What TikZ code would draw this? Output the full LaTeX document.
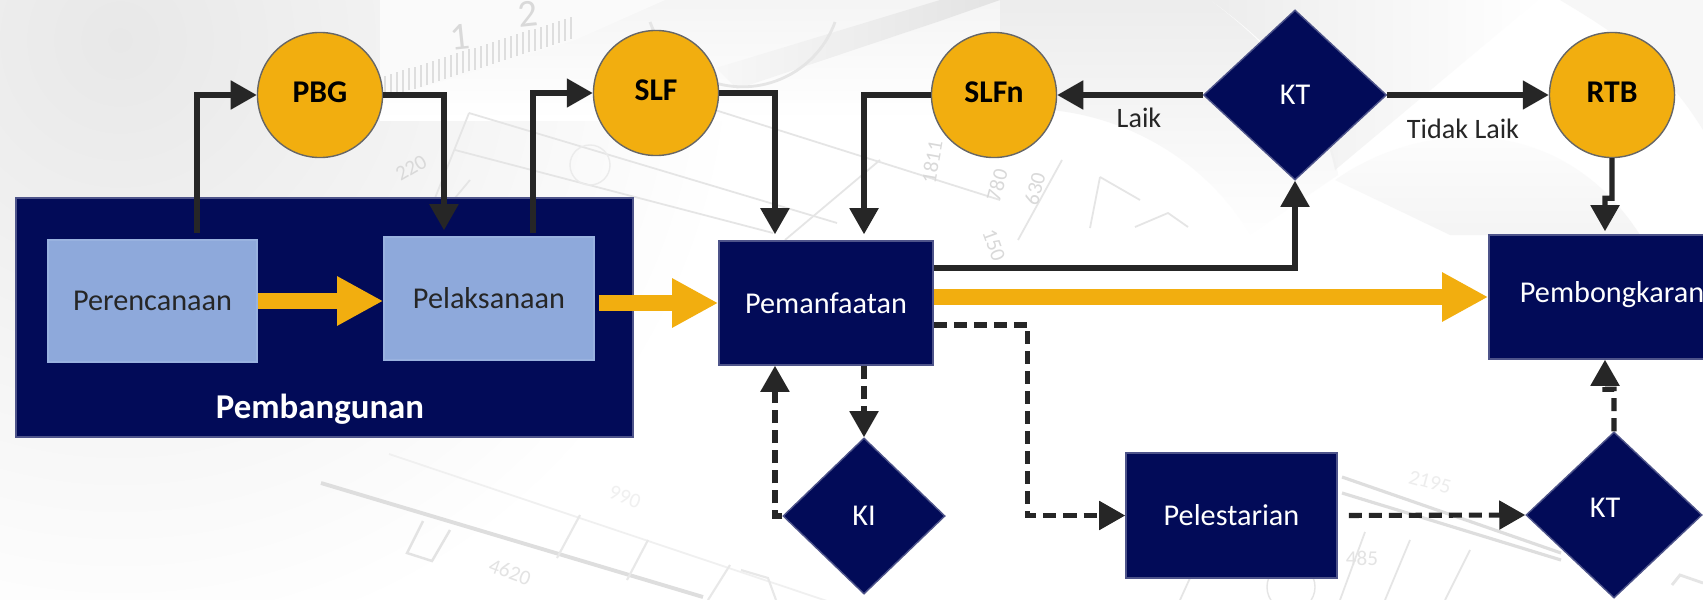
\documentclass[tikz,border=0pt]{standalone}
\usepackage{fontspec}
\setmainfont{Carlito}
\usetikzlibrary{arrows.meta,shapes.geometric,fadings}

\definecolor{navy}{HTML}{020B58}
\definecolor{bluebox}{HTML}{8EA9DB}
\definecolor{amber}{HTML}{F2AE0F}
\definecolor{ink}{HTML}{262626}

\tikzset{
  proses/.style={rectangle, fill=navy, draw=navy!70!white, thin, text=white, inner sep=0pt, font=\fontsize{8.6}{11}\selectfont},
  tahap/.style={rectangle, fill=bluebox, draw=bluebox!90!white, thin, text=ink, inner sep=0pt, font=\fontsize{8.6}{11}\selectfont},
  izin/.style={circle, fill=amber, draw=gray!80!black, thin, text=black, inner sep=0pt, minimum size=1.25cm, text depth=.05cm, font=\bfseries\fontsize{9}{11}\selectfont},
  cek/.style={diamond, fill=navy, draw=navy!70!white, thin, text=white, inner sep=0pt, font=\fontsize{8.6}{11}\selectfont},
  alur/.style={ink, line width=1.45pt, -{Triangle[length=.26cm,width=.28cm]}},
  alurputus/.style={alur, dash pattern=on .13cm off .07cm},
  utama/.style={amber, line width=4.3pt, -{Triangle[length=.46cm,width=.46cm]}},
  latar/.style={gray!20, line width=.5pt},
  angka/.style={gray!30, font=\fontsize{6}{7}\selectfont, inner sep=0pt},
}

\begin{document}
\begin{tikzpicture}[x=.01cm,y=-.01cm]
\useasboundingbox (0,0) rectangle (1703,600);

% background sheet
\fill[white] (0,0) rectangle (1703,600);
\shade[inner color=gray!18,outer color=white] (120,40) circle (6.2cm);
\shade[top color=gray!8,bottom color=white] (380,0) rectangle (1000,120);
\fill[gray!14,path fading=south] (1000,0) -- (1210,0) .. controls (1290,60) and (1330,120) .. (1338,175) -- (1250,235) .. controls (1200,150) and (1100,100) .. (1000,110) -- cycle;
\fill[gray!14,path fading=east] (1210,0) -- (1538,0) -- (1335,170) .. controls (1320,100) and (1280,50) .. cycle;
\fill[gray!8,path fading=north] (1335,180) .. controls (1420,120) and (1560,110) .. (1640,235) -- (1450,235) -- cycle;
\fill[gray!6] (1560,0) -- (1703,0) -- (1703,130) .. controls (1660,60) and (1610,30) .. cycle;

% ruler
\fill[white!96!gray] (380,0) -- (665,0) -- (573,41) -- (380,100) -- cycle;
\foreach \i in {0,...,31} {
  \draw[gray!26, line width=.4pt] ({385+\i*6},{98-\i*1.9}) -- ++(0,-22);
}
\node[angka, rotate=6, font=\fontsize{11}{12}\selectfont] (rul1) at (460,37) {1};
\node[angka, rotate=6, font=\fontsize{11}{12}\selectfont] (rul2) at (528,14) {2};

% pen
\shade[left color=gray!6,right color=gray!22] (716,68) -- (940,0) -- (1000,0) -- (940,21) -- (737,89) -- cycle;
\draw[gray!20, line width=.8pt] (650,22) arc (200:340:28pt);

% plan lines
\draw[latar] (469,113) -- (837,223);
\draw[latar] (455,150) -- (773,233);
\draw[latar] (469,113) -- (435,198);
\draw[latar] (470,180) -- (455,198);
\draw[latar] (715,110) -- (1000,200);
\draw[latar] (880,160) -- (785,240);
\draw[latar] (1062,160) -- (1018,240);
\draw[latar] (1100,177) -- (1140,200);
\draw[latar] (1100,177) -- (1090,228);
\draw[latar] (1135,227) -- (1168,213) -- (1188,227);
\draw[gray!16] (590,165) circle (.2cm);
\node[angka, rotate=30] (dim1) at (411,168) {220};
\node[angka, rotate=80] (dim2) at (932,162) {1811};
\node[angka, rotate=75] (dim3) at (997,185) {780};
\node[angka, rotate=75] (dim4) at (1035,189) {630};
\node[angka, rotate=-70] (dim5) at (994,245) {150};

\draw[gray!26, line width=1.1pt] (321,483) -- (703,597);
\draw[gray!12, line width=.5pt] (389,454) -- (836,604);
\draw[gray!22, line width=.7pt] (423,521) -- (407,553) -- (432,561) -- (450,530);
\draw[gray!18, line width=.6pt] (580,515) -- (557,558);
\draw[gray!18, line width=.6pt] (648,540) -- (627,580);
\draw[gray!18, line width=.6pt] (730,565) -- (708,600);
\draw[gray!18, line width=.6pt] (741,570) -- (768,578) -- (776,600);
\node[angka, rotate=-20, gray!22] (dim6) at (510,572) {4620};
\node[angka, rotate=-20, gray!12] (dim7) at (625,497) {990};

\draw[gray!26, line width=.9pt] (1342,477) -- (1561,553);
\draw[gray!26, line width=.9pt] (1342,493) -- (1561,560);
\draw[gray!20, line width=.5pt] (1190,578) -- (1180,600);
\draw[gray!20, line width=.5pt] (1365,532) -- (1340,600);
\draw[gray!20, line width=.5pt] (1410,540) -- (1385,600);
\draw[gray!20, line width=.5pt] (1470,550) -- (1445,600);
\draw[gray!20, line width=.8pt] (1672,585) -- (1680,575) -- (1703,583);
\draw[gray!20] (1291,587) circle (.24cm);
\node[angka, gray!22] (dim8) at (1362,558) {485};
\node[angka, rotate=-15, gray!14] (dim9) at (1430,482) {2195};

% phases
\node[proses, minimum width=6.17cm, minimum height=2.39cm] (pembangunan) at (324.5,317.5) {};
\node[text=white, font=\bfseries\fontsize{9.9}{12}\selectfont, inner sep=0pt] (judul) at (320,409) {Pembangunan};
\node[tahap, minimum width=2.09cm, minimum height=1.22cm] (perencanaan) at (152.5,301) {Perencanaan};
\node[tahap, minimum width=2.10cm, minimum height=1.23cm] (pelaksanaan) at (489,298.5) {Pelaksanaan};
\node[proses, minimum width=2.14cm, minimum height=1.24cm] (pemanfaatan) at (826,303) {Pemanfaatan};
\node[proses, minimum width=2.46cm, minimum height=1.24cm] (pembongkaran) at (1612,297) {\raisebox{.11cm}{Pembongkaran}};
\node[proses, minimum width=2.11cm, minimum height=1.25cm] (pelestarian) at (1231.5,515.5) {Pelestarian};

% permits
\node[izin] (pbg) at (320,95) {PBG};
\node[izin] (slf) at (656,93) {SLF};
\node[izin] (slfn) at (994,95) {SLFn};
\node[izin] (rtb) at (1612,95) {RTB};

% checks
\node[cek, minimum width=1.83cm, minimum height=1.70cm] (kt1) at (1295,95) {KT};
\node[cek, minimum width=1.62cm, minimum height=1.56cm] (ki) at (864,516) {KI};
\node[cek, minimum width=1.76cm, minimum height=1.66cm, text depth=.15cm] (kt2) at (1614,515) {\hspace*{-.18cm}KT};

% main line
\draw[utama] (perencanaan.east) -- (perencanaan.east -| pelaksanaan.west);
\draw[utama, shorten <=.04cm] (pemanfaatan.west -| pelaksanaan.east) -- (pemanfaatan.west);
\draw[utama] (pembongkaran.west -| pemanfaatan.east) -- (pembongkaran.west);

% permit lines
\draw[alur, shorten <=.06cm] ([xshift=.445cm]perencanaan.north) |- (pbg.west);
\draw[alur, shorten >=.06cm] (pbg.east) -| ([xshift=-.45cm]pelaksanaan.north);
\draw[alur, shorten <=.03cm] ([xshift=.44cm]pelaksanaan.north) |- (slf.west);
\draw[alur, shorten >=.06cm] (slf.east) -| ([xshift=-.51cm]pemanfaatan.north);
\draw[alur, shorten >=.06cm] (slfn.west) -| ([xshift=.38cm]pemanfaatan.north);
\draw[alur] (kt1.west) -- (slfn.east);
\draw[alur] (kt1.east) -- (rtb.west);
\draw[alur] ([yshift=.35cm]pemanfaatan.east) -| (kt1.south);
\draw[alur, shorten >=.03cm] (rtb.south) -- ++(0,40) -- ++(-7,0) -- ([xshift=-.07cm]pembongkaran.north);

% dashed lines
\draw[alurputus] (pemanfaatan.south -| ki.north) -- (ki.north);
\draw[alurputus] (ki.west) -| ([xshift=-.51cm]pemanfaatan.south);
\draw[alurputus] ([yshift=-.22cm]pemanfaatan.east) -- ++(94,0) |- (pelestarian.west);
\draw[alurputus, shorten <=.11cm] (pelestarian.east) -- (kt2.west);
\draw[alurputus] (kt2.north) -- ++(0,-42) -- ++(-9,0) -- ([xshift=-.07cm]pembongkaran.south);

% labels
\node[text=ink, font=\fontsize{8}{9}\selectfont, inner sep=0pt] (laik) at (1139,118) {Laik};
\node[text=ink, font=\fontsize{8}{9}\selectfont, inner sep=0pt] (tidaklaik) at (1463,129) {Tidak Laik};
\end{tikzpicture}
\end{document}
